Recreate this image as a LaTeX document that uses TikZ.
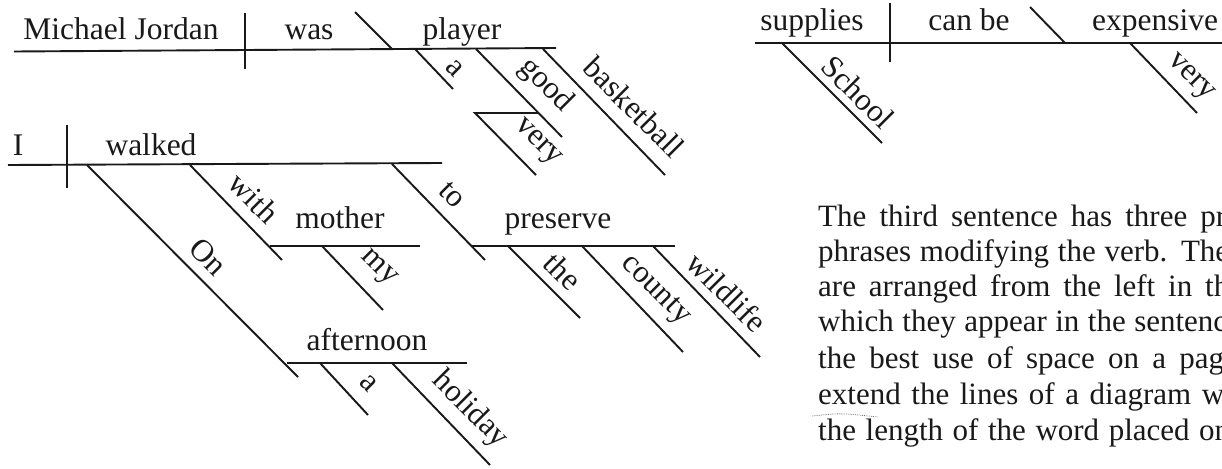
\documentclass[tikz,border=0pt]{standalone}
\usepackage{fontspec}
\setmainfont{Liberation Serif}
\begin{document}
\begin{tikzpicture}[x=1pt,y=-1pt,
  dl/.style={line width=1.9pt, draw=black!90},
  word/.style={anchor=base, inner sep=0pt, font=\fontsize{31.5}{36}\selectfont, text=black!90},
  slant/.style={rotate=-45, inner sep=0pt, font=\fontsize{31.5}{36}\selectfont, text=black!90},
  para/.style={anchor=base west, inner sep=0pt, font=\fontsize{31}{36}\selectfont, text=black!90}]
\useasboundingbox (0,0) rectangle (1222,468);
\begin{scope}
\clip (0,0) rectangle (1222,468);
% ---------- Sentence 1 ----------
\coordinate (b1s) at (14,51.5);   \coordinate (b1e) at (556,48);
\coordinate (d1t) at (245,13);    \coordinate (d1b) at (245,69);
\coordinate (pc1t) at (355,12);   \coordinate (pc1b) at (392,49);
\coordinate (a1t) at (415,49);    \coordinate (a1b) at (453,89);
\coordinate (g1t) at (476,49);    \coordinate (g1b) at (562,137);
\coordinate (bb1t) at (543,49);   \coordinate (bb1b) at (665,175);
\coordinate (v1r) at (538,113);   \coordinate (v1l) at (475,113);
\coordinate (v1b) at (536,175);
\draw[dl] (b1s) -- (b1e);
\draw[dl] (d1t) -- (d1b);
\draw[dl] (pc1t) -- (pc1b);
\draw[dl] (a1t) -- (a1b);
\draw[dl] (g1t) -- (g1b);
\draw[dl] (bb1t) -- (bb1b);
\draw[dl] (v1r) -- (v1l) -- (v1b);
\node[word] (mj) at (121,40) {Michael Jordan};
\node[word] (was) at (309,40) {was};
\node[word] (player) at (462,40) {player};
\node[slant] (s1a) at (455,68) {a};
\node[slant] (s1good) at (546,85) {good};
\node[slant] (s1bb) at (634,107) {basketball};
\node[slant] (s1very) at (537,143) {very};
% ---------- Sentence 2 ----------
\coordinate (b2s) at (8,165);     \coordinate (b2e) at (442,163);
\coordinate (d2t) at (67,125);    \coordinate (d2b) at (67,188);
\coordinate (ont) at (87,165);    \coordinate (onb) at (298,377);
\coordinate (aftl) at (287,363);  \coordinate (aftr) at (467,363);
\coordinate (a2t) at (320,363);   \coordinate (a2b) at (368,415);
\coordinate (holt) at (392,363);  \coordinate (holb) at (490,465);
\coordinate (witht) at (190,165); \coordinate (withb) at (282,260);
\coordinate (motl) at (270,246);  \coordinate (motr) at (420,246);
\coordinate (myt) at (322,246);   \coordinate (myb) at (383,310);
\coordinate (tot) at (392,164);   \coordinate (tob) at (485,260);
\coordinate (prel) at (472,246);  \coordinate (prer) at (675,246);
\coordinate (thet) at (508,246);  \coordinate (theb) at (580,318);
\coordinate (coutt) at (582,246); \coordinate (coub) at (683,352);
\coordinate (wilt) at (653,246);  \coordinate (wilb) at (760,357);
\draw[dl] (b2s) -- (b2e);
\draw[dl] (d2t) -- (d2b);
\draw[dl] (ont) -- (onb);
\draw[dl] (aftl) -- (aftr);
\draw[dl] (a2t) -- (a2b);
\draw[dl] (holt) -- (holb);
\draw[dl] (witht) -- (withb);
\draw[dl] (motl) -- (motr);
\draw[dl] (myt) -- (myb);
\draw[dl] (tot) -- (tob);
\draw[dl] (prel) -- (prer);
\draw[dl] (thet) -- (theb);
\draw[dl] (coutt) -- (coub);
\draw[dl] (wilt) -- (wilb);
\node[word] (I) at (18,155) {I};
\node[word] (walked) at (151,155) {walked};
\node[word] (mother) at (340,228) {mother};
\node[word] (preserve) at (558,228) {preserve};
\node[word] (afternoon) at (367,350) {afternoon};
\node[slant] (with) at (254,198) {with};
\node[slant] (on) at (208,257) {On};
\node[slant] (my) at (378,269) {my};
\node[slant] (a2) at (369,383) {a};
\node[slant] (holiday) at (470,410) {holiday};
\node[slant] (to) at (452,195) {to};
\node[slant] (the) at (563,271) {the};
\node[slant] (county) at (655,291) {county};
\node[slant] (wildlife) at (727,292) {wildlife};
% ---------- Sentence 3 ----------
\coordinate (b3s) at (755,43);    \coordinate (b3e) at (1222,43);
\coordinate (d3t) at (890,3);     \coordinate (d3b) at (890,62);
\coordinate (pc3t) at (1030,7);   \coordinate (pc3b) at (1065,43);
\coordinate (scht) at (782,43);   \coordinate (schb) at (882,143);
\coordinate (v3t) at (1130,43);   \coordinate (v3b) at (1197,113);
\draw[dl] (b3s) -- (b3e);
\draw[dl] (d3t) -- (d3b);
\draw[dl] (pc3t) -- (pc3b);
\draw[dl] (scht) -- (schb);
\draw[dl] (v3t) -- (v3b);
\node[word] (supplies) at (812,31) {supplies};
\node[word] (canbe) at (969,31) {can be};
\node[word] (expensive) at (1155,31) {expensive};
\node[slant] (school) at (858,92) {School};
\node[slant] (very3) at (1190,78) {very};
% ---------- Paragraph ----------
\node[para] (p1) at (818,226) {\makebox[408pt][s]{The third sentence has three pr}};
\node[para] (p2) at (818,261) {\makebox[411pt][s]{phrases modifying the verb. The}};
\node[para] (p3) at (818,296) {\makebox[411pt][s]{are arranged from the left in th}};
\node[para] (p4) at (818,331) {\makebox[409pt][s]{which they appear in the sentenc}};
\node[para] (p5) at (818,368) {\makebox[406pt][s]{the best use of space on a pag}};
\node[para] (p6) at (818,404) {\makebox[406pt][s]{extend the lines of a diagram w}};
\node[para] (p7) at (818,440) {\makebox[412pt][s]{the length of the word placed on}};
\coordinate (sq1) at (812,416); \coordinate (sq2) at (878,417);
\draw[black!55, densely dotted, line width=0.8pt] (sq1) .. controls (840,413) .. (sq2);
\end{scope}
\end{tikzpicture}
\end{document}
